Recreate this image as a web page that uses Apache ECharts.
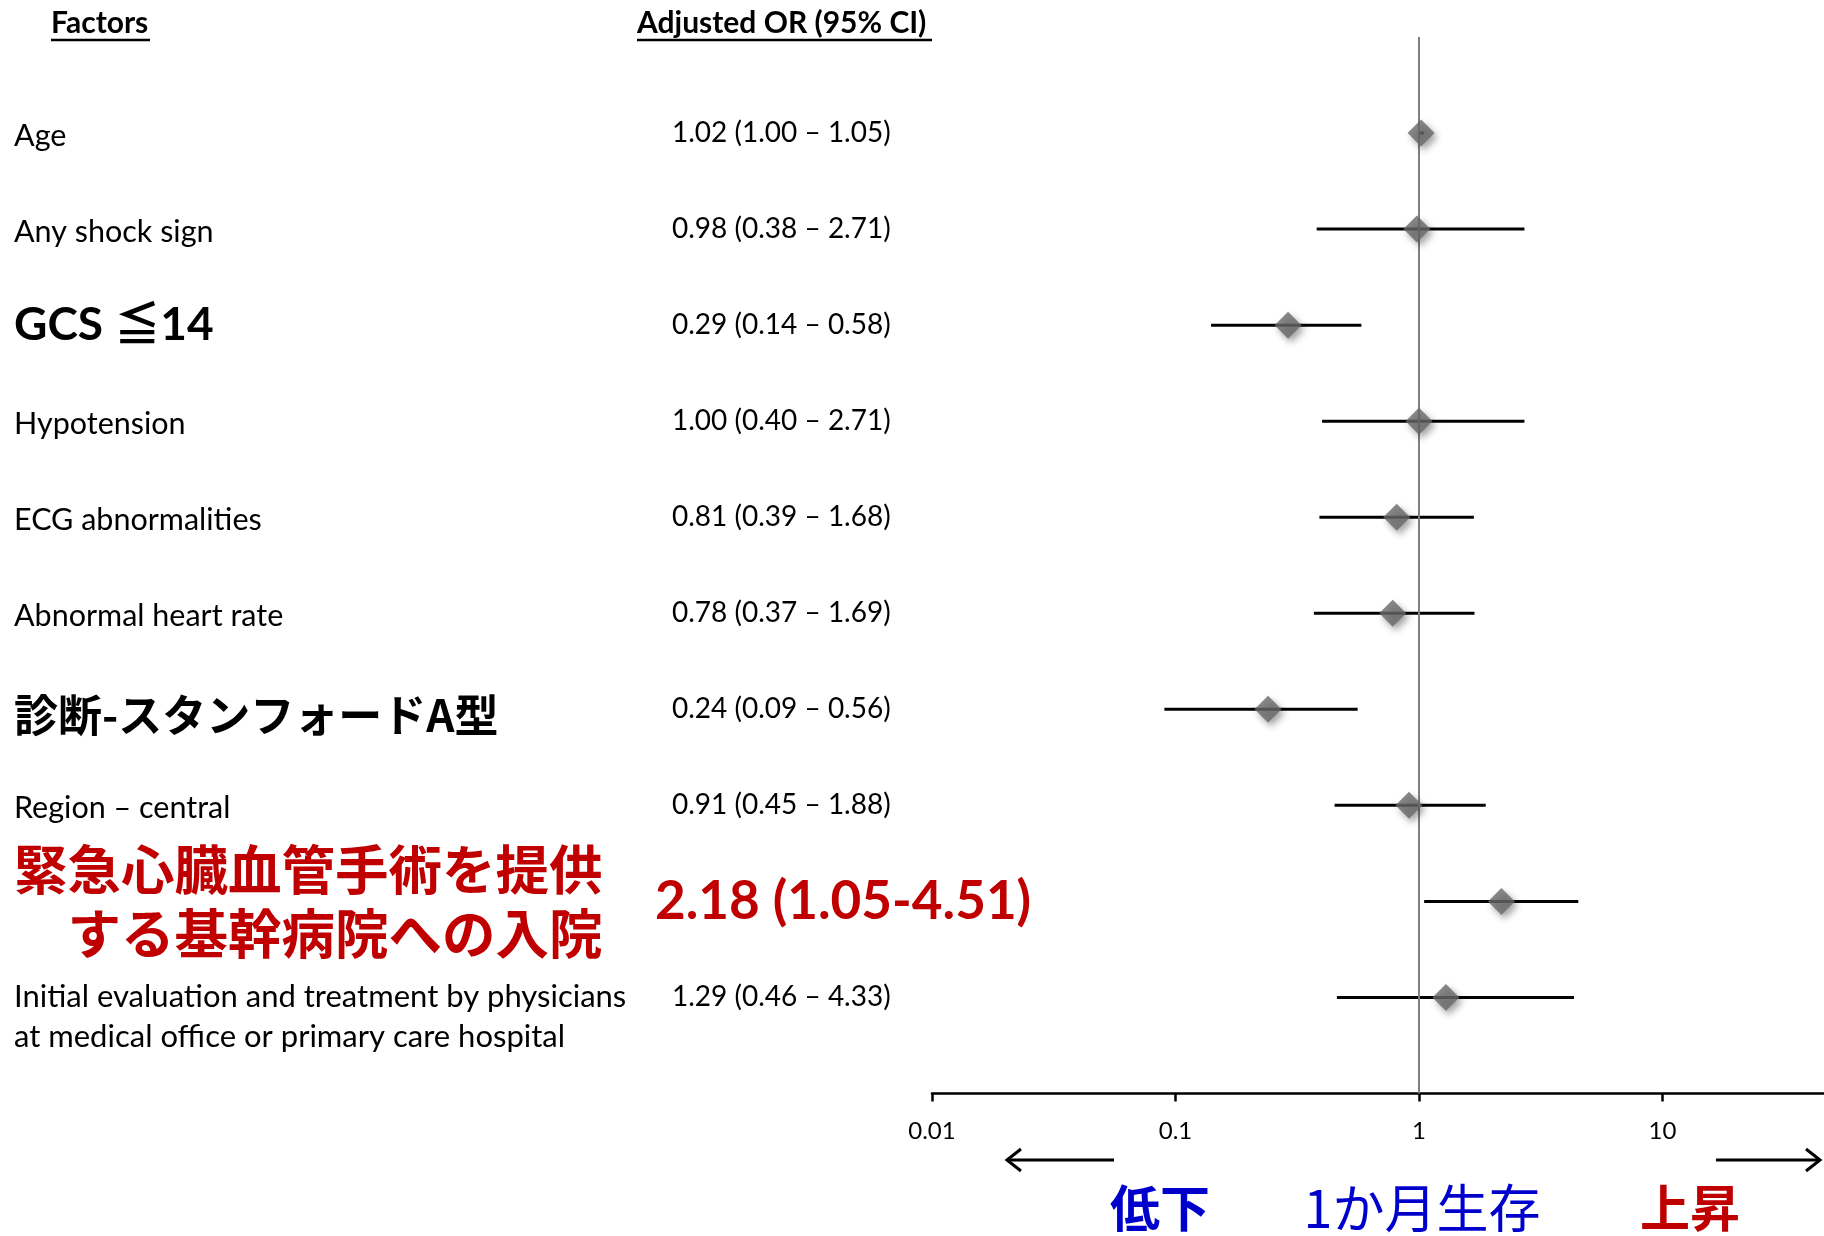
<!DOCTYPE html>
<html>
<head>
<meta charset="utf-8">
<title>Adjusted OR forest plot</title>
<script src="https://cdn.jsdelivr.net/npm/echarts@6/dist/echarts.min.js"></script>
<style>
  html, body { margin: 0; padding: 0; background: #fff; }
  #chart { width: 1824px; height: 1236px; }
</style>
</head>
<body>
<div id="chart"></div>
<script>
// Factors, top to bottom
const factors = [
  'Age',
  'Any shock sign',
  'GCS ≦14',
  'Hypotension',
  'ECG abnormalities',
  'Abnormal heart rate',
  '診断-スタンフォードA型',
  'Region – central',
  '緊急心臓血管手術を提供\nする基幹病院への入院',
  'Initial evaluation and treatment by physicians\nat medical office or primary care hospital'
];
// Adjusted odds ratio and 95% CI bounds
const orValue = [1.02, 0.98, 0.29, 1.00, 0.81, 0.78, 0.24, 0.91, 2.18, 1.29];
const ciLow   = [1.00, 0.38, 0.14, 0.40, 0.39, 0.37, 0.09, 0.45, 1.05, 0.46];
const ciHigh  = [1.05, 2.71, 0.58, 2.71, 1.68, 1.69, 0.56, 1.88, 4.51, 4.33];
// Log-scale tick values
const xTicks = [0.01, 0.1, 1, 10, 100];

// Rows whose labels are emphasised
const bigRows = { 2: 'big', 6: 'jp', 8: 'red' };
const HIGHLIGHT_ROW = 8;

const LATIN = 'Lato, "Noto Sans CJK JP", sans-serif';
const CJK = '"Noto Sans CJK JP", sans-serif';

function orLabel(i) {
  const dash = i === HIGHLIGHT_ROW ? '-' : ' – ';
  return orValue[i].toFixed(2) + ' (' + ciLow[i].toFixed(2) + dash + ciHigh[i].toFixed(2) + ')';
}

function factorLabel(v) {
  const i = Math.round(v);
  if (i < 0 || i >= factors.length) return '';
  const style = bigRows[i] || 'n';
  const lines = factors[i].split('\n');
  if (style === 'n' && lines.length > 1) {
    // two-line label: first line sits on the row, second below it
    return '{gap| }\n' + lines.map(l => '{n2|' + l + '}').join('\n');
  }
  return lines.map(l => '{' + style + '|' + l + '}').join('\n');
}

// row axis shared settings (labels only)
function rowAxis(extra) {
  return Object.assign({
    type: 'value', position: 'left', offset: 0,
    min: -1, max: 10, interval: 1, inverse: true,
    axisLine: { show: false }, axisTick: { show: false }, splitLine: { show: false }
  }, extra);
}

const chart = echarts.init(document.getElementById('chart'));

const option = {
  animation: false,
  backgroundColor: '#ffffff',
  grid: {
    left: 932, top: 37, right: -82, bottom: 142.5,
    containLabel: false, outerBoundsMode: 'none'
  },
  xAxis: {
    type: 'log',
    logBase: 10,
    position: 'bottom',
    min: xTicks[0],
    max: xTicks[xTicks.length - 1],
    axisLine: { show: true, onZero: false, lineStyle: { color: '#000', width: 2.5 } },
    axisTick: { show: true, length: 8, lineStyle: { color: '#000', width: 2.5 } },
    minorTick: { show: false },
    splitLine: { show: false },
    axisLabel: {
      margin: 26,
      fontFamily: LATIN,
      fontSize: 24,
      color: '#000',
      formatter: v => String(v)
    }
  },
  yAxis: [
    rowAxis({
      axisLabel: {
        margin: 918, align: 'left', verticalAlign: 'middle',
        formatter: factorLabel,
        rich: {
          n:   { fontFamily: LATIN, fontSize: 30.5, color: '#000', padding: [6, 0, 0, 0] },
          n2:  { fontFamily: LATIN, fontSize: 31, color: '#000', lineHeight: 40 },
          gap: { fontSize: 10, lineHeight: 40 },
          big: { fontFamily: LATIN, fontSize: 46, fontWeight: 'bold', color: '#000' },
          jp:  { fontFamily: CJK, fontSize: 44, fontWeight: 'bold', color: '#000', padding: [12, 0, 0, 0] },
          red: { fontFamily: CJK, fontSize: 53.5, fontWeight: 'bold', color: '#C00000', lineHeight: 64, align: 'right' }
        }
      }
    }),
    rowAxis({
      axisLabel: {
        margin: 260, align: 'left', verticalAlign: 'middle',
        fontFamily: LATIN, fontSize: 28, color: '#000', padding: [3, 0, 0, 0],
        formatter: v => {
          const i = Math.round(v);
          if (i < 0 || i >= factors.length || i === HIGHLIGHT_ROW) return '';
          return orLabel(i);
        }
      }
    }),
    rowAxis({
      axisLabel: {
        margin: 277, align: 'left', verticalAlign: 'middle',
        fontFamily: LATIN, fontSize: 53, fontWeight: 'bold', color: '#C00000',
        formatter: v => (Math.round(v) === HIGHLIGHT_ROW ? orLabel(HIGHLIGHT_ROW) : '')
      }
    })
  ],
  graphic: [
    // column headers
    { type: 'text', left: 51, top: 8, style: { text: 'Factors', font: 'bold 30px ' + LATIN, fill: '#000' } },
    { type: 'line', shape: { x1: 51, y1: 40, x2: 150, y2: 40 }, style: { stroke: '#000', lineWidth: 2.5 } },
    { type: 'text', left: 637, top: 8, style: { text: 'Adjusted OR (95% CI)', font: 'bold 30px ' + LATIN, fill: '#000' } },
    { type: 'line', shape: { x1: 637, y1: 40, x2: 932, y2: 40 }, style: { stroke: '#000', lineWidth: 2.5 } },
    // direction arrows
    { type: 'polyline', shape: { points: [[1114, 1160], [1007, 1160]] }, style: { stroke: '#000', lineWidth: 3 } },
    { type: 'polyline', shape: { points: [[1021, 1149], [1007, 1160], [1021, 1171]] }, style: { stroke: '#000', lineWidth: 3, fill: null } },
    { type: 'polyline', shape: { points: [[1716, 1160], [1820, 1160]] }, style: { stroke: '#000', lineWidth: 3 } },
    { type: 'polyline', shape: { points: [[1806, 1149], [1820, 1160], [1806, 1171]] }, style: { stroke: '#000', lineWidth: 3, fill: null } },
    // outcome captions
    { type: 'text', x: 1160, y: 1208, style: { text: '低下', font: 'bold 50px ' + CJK, fill: '#0000CC', align: 'center', verticalAlign: 'middle' } },
    { type: 'text', x: 1422, y: 1208, style: { text: '1か月生存', font: '52px ' + CJK, fill: '#0000CC', align: 'center', verticalAlign: 'middle' } },
    { type: 'text', x: 1690, y: 1208, style: { text: '上昇', font: 'bold 50px ' + CJK, fill: '#C00000', align: 'center', verticalAlign: 'middle' } }
  ],
  series: [
    {
      // confidence interval whiskers
      type: 'custom',
      z: 2,
      data: factors.map((_, i) => [ciLow[i], ciHigh[i], i]),
      encode: { x: [0, 1], y: 2 },
      renderItem: (params, api) => {
        const a = api.coord([api.value(0), api.value(2)]);
        const b = api.coord([api.value(1), api.value(2)]);
        return {
          type: 'line',
          shape: { x1: a[0], y1: a[1], x2: b[0], y2: b[1] },
          style: { stroke: '#000', lineWidth: 3 }
        };
      },
      markLine: {
        silent: true,
        symbol: ['none', 'none'],
        label: { show: false },
        lineStyle: { color: '#808080', width: 2, type: 'solid' },
        data: [{ xAxis: 1 }]
      }
    },
    {
      // point estimates
      type: 'scatter',
      z: 5,
      symbol: 'diamond',
      symbolSize: 27,
      data: factors.map((_, i) => [orValue[i], i]),
      itemStyle: {
        color: '#696969',
        shadowBlur: 7,
        shadowOffsetX: 3,
        shadowOffsetY: 4,
        shadowColor: 'rgba(0,0,0,0.45)'
      }
    }
  ]
};

chart.setOption(option);
</script>
</body>
</html>
